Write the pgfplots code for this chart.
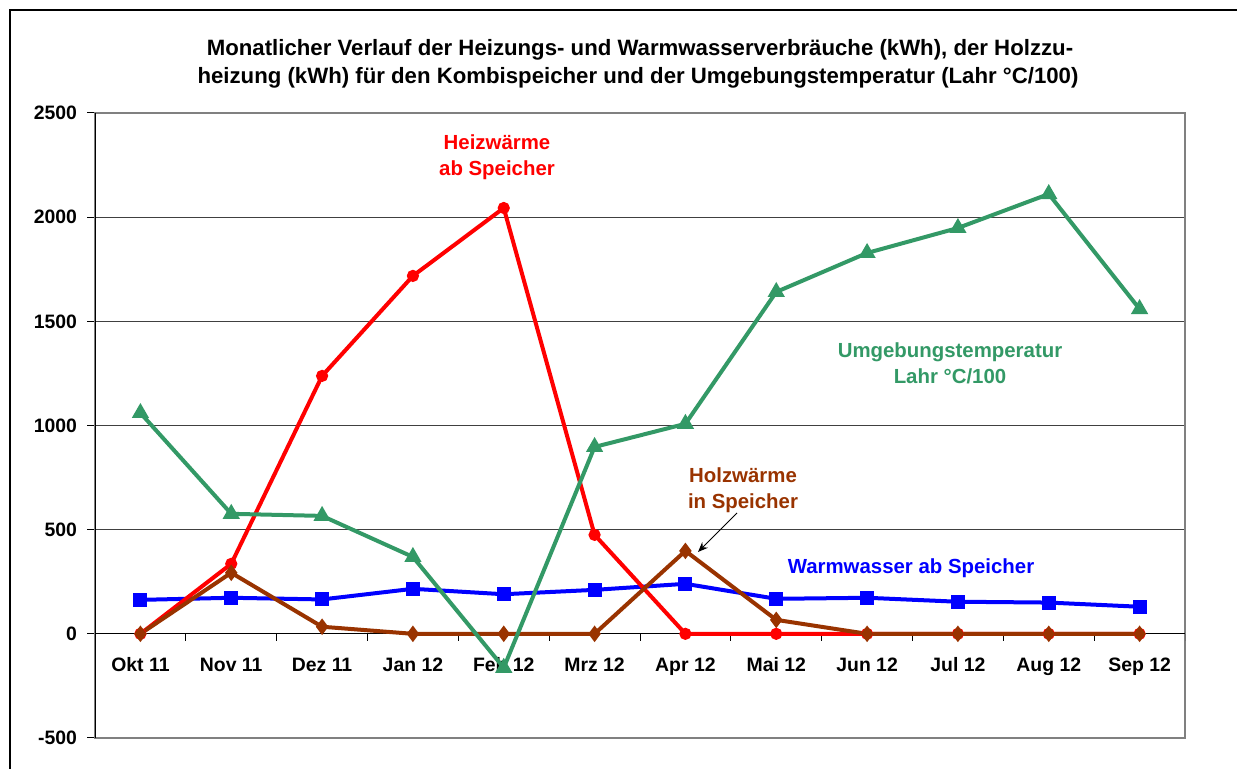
\documentclass[border=0pt]{standalone}
\usepackage{fontspec}
\setmainfont{Liberation Sans}
\usepackage{pgfplots}
\pgfplotsset{compat=1.18}
\usetikzlibrary{arrows.meta}
\definecolor{hz}{RGB}{255,0,0}
\definecolor{ww}{RGB}{0,0,255}
\definecolor{hw}{RGB}{153,51,0}
\definecolor{ug}{RGB}{51,153,102}
\begin{document}
\begin{tikzpicture}[x=1pt,y=1pt]
\useasboundingbox (0,0) rectangle (618.5,384.5);
\clip (0,0) rectangle (618.5,384.5);
\draw[line width=1pt] (5,-10) -- (5,379.5) -- (640,379.5);
\begin{axis}[at={(47.5pt,15.5pt)}, anchor=south west, scale only axis,
  width=545pt, height=312.5pt,
  xmin=-0.5, xmax=11.5, ymin=-500, ymax=2500,
  xtick={0,...,11},
  xticklabels={Okt 11,Nov 11,Dez 11,Jan 12,Feb 12,Mrz 12,Apr 12,Mai 12,Jun 12,Jul 12,Aug 12,Sep 12},
  xtick style={draw=none},
  ytick={-500,0,500,1000,1500,2000,2500}, ytick pos=left,
  tick align=outside, major tick length=4pt,
  ytick style={black, line width=0.5pt},
  axis line style={black!50, line width=0.8pt},
  ymajorgrids, grid style={black!75, line width=0.5pt},
  tick label style={font=\fontsize{9.7}{11}\selectfont\bfseries},
  yticklabel style={xshift=-1.5pt},
  xticklabel style={yshift=48pt, text height=7pt, text depth=2pt},
  scaled y ticks=false,
  /pgf/number format/1000 sep={},
  /pgf/number format/assume math mode=true,
]
\draw[black, line width=0.6pt] (axis cs:-0.5,0) -- (axis cs:11.5,0);
\pgfplotsinvokeforeach{-0.5,0.5,1.5,2.5,3.5,4.5,5.5,6.5,7.5,8.5,9.5,10.5,11.5}{
  \draw[black, line width=0.5pt] (axis cs:#1,0) -- ([yshift=-3.5pt]axis cs:#1,0);
}
\draw[black, line width=0.8pt] (rel axis cs:0,0) -- (rel axis cs:0,1);
\addplot[ww, line width=2pt, mark=square*, mark size=2.5pt] coordinates {
 (0,163) (1,173) (2,165) (3,216) (4,190) (5,211) (6,240) (7,168) (8,173) (9,154) (10,150) (11,130)};
\addplot[hz, line width=2pt, mark=*, mark size=2pt] coordinates {
 (0,0) (1,336) (2,1238) (3,1718) (4,2044) (5,475) (6,0) (7,0) (8,0) (9,0) (10,0) (11,0)};
\addplot[hw, line width=2pt, mark=diamond*, mark size=2.5pt] coordinates {
 (0,0) (1,293) (2,34) (3,0) (4,0) (5,0) (6,398) (7,67) (8,0) (9,0) (10,0) (11,0)};
\addplot[ug, line width=2pt, mark=triangle*, mark size=3pt] coordinates {
 (0,1060) (1,576) (2,566) (3,369) (4,-163) (5,897) (6,1008) (7,1641) (8,1828) (9,1948) (10,2111) (11,1559)};
\end{axis}
\begin{scope}[font=\fontsize{11.1}{13.3}\selectfont\bfseries]
\node[anchor=base] at (320,356.5) {Monatlicher Verlauf der Heizungs- und Warmwasserverbräuche (kWh), der Holzzu-};
\node[anchor=base] at (319,342.5) {heizung (kWh) für den Kombispeicher und der Umgebungstemperatur (Lahr °C/100)};
\end{scope}
\begin{scope}[font=\fontsize{10.2}{13}\selectfont\bfseries]
\node[hz, align=center] at (248.5,306) {Heizwärme\\ab Speicher};
\node[ug, align=center] at (475,203) {Umgebungstemperatur\\Lahr °C/100};
\node[hw, align=center] at (371.5,139.5) {Holzwärme\\in Speicher};
\node[ww] at (455.5,100.5) {Warmwasser ab Speicher};
\end{scope}
\draw[-{Stealth[length=5pt,width=4pt]}, line width=0.5pt] (368.5,128) -- (349,108.5);
\end{tikzpicture}
\end{document}
